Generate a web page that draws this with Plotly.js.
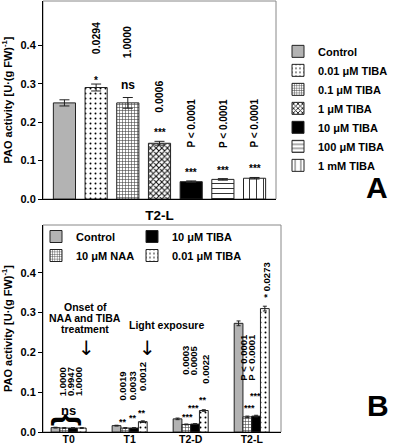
<!DOCTYPE html>
<html><head><meta charset="utf-8">
<script src="https://cdn.plot.ly/plotly-3.0.1.min.js"></script>
<style>body{margin:0;padding:0;background:#fff}#chart{width:400px;height:444px}</style>
</head><body><div id="chart"></div>
<script>
// ---------- Panel A data ----------
const categoryA = ['T2-L'];
const seriesA = ['Control', '0.01 μM TIBA', '0.1 μM TIBA', '1 μM TIBA', '10 μM TIBA', '100 μM TIBA', '1 mM TIBA'];
const valuesA = [0.250, 0.290, 0.250, 0.145, 0.045, 0.051, 0.054];
const errorsA = [0.008, 0.009, 0.014, 0.005, 0.002, 0.002, 0.002];
const starsA = ['', '*', 'ns', '***', '***', '***', '***'];
const pLabelsA = ['', '0.0294', '1.0000', '0.0006', 'P < 0.0001', 'P < 0.0001', 'P < 0.0001'];

// ---------- Panel B data ----------
const categoriesB = ['T0', 'T1', 'T2-D', 'T2-L'];
const seriesB = ['Control', '10 μM NAA', '10 μM TIBA', '0.01 μM TIBA'];
const controlB = [0.011, 0.016, 0.033, 0.273];
const naaB = [0.010, 0.010, 0.019, 0.038];
const tibaB = [0.010, 0.010, 0.020, 0.040];
const tiba001B = [0.010, 0.026, 0.054, 0.310];
const controlErrB = [0.001, 0.001, 0.002, 0.006];
const naaErrB = [0.001, 0.001, 0.001, 0.002];
const tibaErrB = [0.001, 0.001, 0.001, 0.002];
const tiba001ErrB = [0.001, 0.002, 0.002, 0.006];
const pLabelsB = [['1.0000', '0.9947', '1.0000'], ['0.0019', '0.0033', '0.0012'], ['0.0003', '0.0005', '0.0022'], ['P < 0.0001', 'P < 0.0001', '* 0.0273']];
const starsB = [['', '', ''], ['**', '**', '**'], ['***', '***', '**'], ['***', '***', '']];
const yTickVals = [0, 0.1, 0.2, 0.3, 0.4];

// ---------- styles ----------
const edge = {color: '#222', width: 1};
const solidGray = {color: '#b3b3b3'};
const dots = {color: '#fff', pattern: {shape: '.', fgcolor: '#000', bgcolor: '#fff', size: 5, solidity: 0.12}};
const fineGrid = {color: '#fff', pattern: {shape: '+', fgcolor: '#444', bgcolor: '#fff', size: 3, solidity: 0.35}};
const checker = {color: '#fff', pattern: {shape: 'x', fgcolor: '#111', bgcolor: '#fff', size: 4, solidity: 0.45}};
const solidBlack = {color: '#000'};
const hLines = {color: '#fff', pattern: {shape: '-', fgcolor: '#333', bgcolor: '#fff', size: 5, solidity: 0.2}};
const vLines = {color: '#fff', pattern: {shape: '|', fgcolor: '#333', bgcolor: '#fff', size: 7, solidity: 0.14}};
const stylesA = [solidGray, dots, fineGrid, checker, solidBlack, hLines, vLines];
const stylesB = [solidGray, fineGrid, solidBlack, dots];
const legendOfB = ['legend2', 'legend2', 'legend3', 'legend3'];

const slotA = 0.136, barWA = 0.095;
const slotB = 0.1435, barWB = 0.1435;

const traces = [];
seriesA.forEach((name, i) => {
  traces.push({
    type: 'bar', x: categoryA, y: [valuesA[i]], name: name,
    xaxis: 'x', yaxis: 'y', legend: 'legend',
    width: barWA, offset: (i - 3) * slotA - barWA / 2,
    marker: Object.assign({}, stylesA[i], {line: edge}),
    error_y: {type: 'data', array: [errorsA[i]], visible: true, color: '#222', thickness: 1, width: 5},
    hoverinfo: 'skip'
  });
});
const valsB = [controlB, naaB, tibaB, tiba001B];
const errsB = [controlErrB, naaErrB, tibaErrB, tiba001ErrB];
seriesB.forEach((name, j) => {
  traces.push({
    type: 'bar', x: categoriesB, y: valsB[j], name: name,
    xaxis: 'x2', yaxis: 'y2', legend: legendOfB[j],
    width: barWB, offset: (j - 1.5) * slotB - barWB / 2,
    marker: Object.assign({}, stylesB[j], {line: edge}),
    error_y: {type: 'data', array: errsB[j], visible: true, color: '#222', thickness: 1, width: 2},
    hoverinfo: 'skip'
  });
});

const F = 'Liberation Sans, Arial, sans-serif';
const ann = [];
// Panel A annotations
seriesA.forEach((s, i) => {
  const xc = (i - 3) * slotA;
  if (starsA[i]) ann.push({xref: 'x', yref: 'y', x: xc, y: valuesA[i] + errorsA[i], yanchor: 'bottom', yshift: starsA[i] === 'ns' ? 3 : (starsA[i] === '*' ? -4 : 1),
    text: starsA[i], showarrow: false, font: {size: starsA[i] === 'ns' ? 12 : 10, weight: 'bold'}});
  if (pLabelsA[i]) ann.push({xref: 'x', yref: 'y', x: xc, y: valuesA[i] + errorsA[i], yanchor: 'bottom', yshift: [0, 28, 37, 26, 31, 29, 28][i],
    text: pLabelsA[i], textangle: -90, showarrow: false, font: {size: i >= 4 ? 10 : 10.5, weight: 'bold'}});
});
// Panel B p-value columns (x offset within group, bottom y)
const pPosB = [
  [[-0.10, 0.085], [0.03, 0.085], [0.16, 0.085]],
  [[-0.11, 0.075], [0.05, 0.075], [0.21, 0.098]],
  [[-0.09, 0.138], [0.04, 0.138], [0.24, 0.116]],
  [[-0.14, 0.123], [-0.01, 0.123], [0.24, 0.332]]
];
const starPosB = [
  [null, null, null],
  [[-0.11, 0.025], [0.05, 0.035], [0.21, 0.048]],
  [[-0.06, 0.038], [0.04, 0.060], [0.20, 0.080]],
  [[-0.04, 0.060], [0.06, 0.090], null]
];
categoriesB.forEach((c, k) => {
  pLabelsB[k].forEach((t, m) => {
    const p = pPosB[k][m];
    ann.push({xref: 'x2', yref: 'y2', x: k + p[0], y: p[1], yanchor: 'bottom', text: t, textangle: -90,
      showarrow: false, font: {size: 9.5, weight: 'bold'}});
  });
  starsB[k].forEach((t, m) => {
    if (!t) return;
    const p = starPosB[k][m];
    ann.push({xref: 'x2', yref: 'y2', x: k + p[0], y: p[1], yanchor: 'middle', text: t,
      showarrow: false, font: {size: 9, weight: 'bold'}});
  });
});
ann.push({xref: 'x2', yref: 'y2', x: 0, y: 0.055, text: 'ns', showarrow: false, font: {size: 13, weight: 'bold'}});
ann.push({xref: 'x2', yref: 'y2', x: 0, y: 0.032, text: '{', textangle: 90, showarrow: false, font: {size: 32, weight: 'bold'}});
// notes
const noteLines = ['Onset of', 'NAA and TIBA', 'treatment'];
noteLines.forEach((t, n) => ann.push({xref: 'x2', yref: 'y2', x: 0.27, y: 0.314 - n * 0.0276, text: t, showarrow: false, font: {size: 10.5, weight: 'bold'}}));
ann.push({xref: 'x2', yref: 'y2', x: 1.6, y: 0.269, text: 'Light exposure', showarrow: false, font: {size: 10.5, weight: 'bold'}});
ann.push({xref: 'x2', yref: 'y2', x: 0.3, y: 0.212, text: '↓', showarrow: false, font: {size: 20, family: 'DejaVu Sans', weight: 'normal'}});
ann.push({xref: 'x2', yref: 'y2', x: 1.3, y: 0.212, text: '↓', showarrow: false, font: {size: 20, family: 'DejaVu Sans', weight: 'normal'}});
// panel letters
ann.push({xref: 'paper', yref: 'paper', x: 390 / 400, y: 1 - 187 / 444, text: 'A', showarrow: false, font: {size: 30, weight: 'bold'}});
ann.push({xref: 'paper', yref: 'paper', x: 391 / 400, y: 1 - 424 / 444, text: 'B', showarrow: false, font: {size: 30, weight: 'bold'}});

const yTitle = 'PAO activity [U·(g FW)<sup>-1</sup>]';
const yCommon = {
  showline: true, linecolor: '#000', linewidth: 1, ticks: 'outside', ticklen: 4, tickcolor: '#000',
  showgrid: false, zeroline: false, tickmode: 'array', tickvals: yTickVals, tickformat: '.1f', tickfont: {size: 11, weight: 'bold'},
  title: {text: yTitle, font: {size: 11, weight: 'bold'}, standoff: 6}
};
const legendCommon = {xanchor: 'left', yanchor: 'top', font: {size: 11, weight: 'bold'}, bgcolor: 'rgba(0,0,0,0)', tracegroupgap: 0};
const layout = {
  width: 400, height: 444, margin: {l: 0, r: 0, t: 0, b: 0},
  paper_bgcolor: '#fff', plot_bgcolor: '#fff',
  font: {family: F, color: '#000', weight: 'bold'},
  barmode: 'overlay', showlegend: true,
  xaxis: {domain: [43 / 400, 276 / 400], anchor: 'y', type: 'category', range: [-0.5, 0.5],
    showline: true, linecolor: '#000', ticks: '', showgrid: false, tickfont: {size: 13.5, weight: 'bold'}, ticklabelstandoff: 4},
  yaxis: Object.assign({}, yCommon, {domain: [245 / 444, 443 / 444], anchor: 'x', range: [0, 0.515]}),
  xaxis2: {domain: [43 / 400, 281 / 400], anchor: 'y2', type: 'category', range: [-0.42, 3.48],
    showline: true, linecolor: '#000', ticks: '', showgrid: false, tickfont: {size: 10.5, weight: 'bold'}, ticklabelstandoff: -3},
  yaxis2: Object.assign({}, yCommon, {domain: [12 / 444, 219 / 444], anchor: 'x2', range: [0, 0.52]}),
  legend: Object.assign({}, legendCommon, {x: 0.695, y: 0.917}),
  legend2: Object.assign({}, legendCommon, {x: 0.09, y: 1 - 222 / 444}),
  legend3: Object.assign({}, legendCommon, {x: 0.33, y: 1 - 222 / 444}),
  shapes: [
    {type: 'rect', xref: 'paper', yref: 'paper', x0: 43 / 400, x1: 276 / 400, y0: 245 / 444, y1: 443 / 444, line: {color: '#888', width: 1}, layer: 'below'},
    {type: 'rect', xref: 'paper', yref: 'paper', x0: 43 / 400, x1: 281 / 400, y0: 12 / 444, y1: 219 / 444, line: {color: '#888', width: 1}, layer: 'below'}
  ],
  annotations: ann
};
Plotly.newPlot('chart', traces, layout, {staticPlot: true});
</script></body></html>
